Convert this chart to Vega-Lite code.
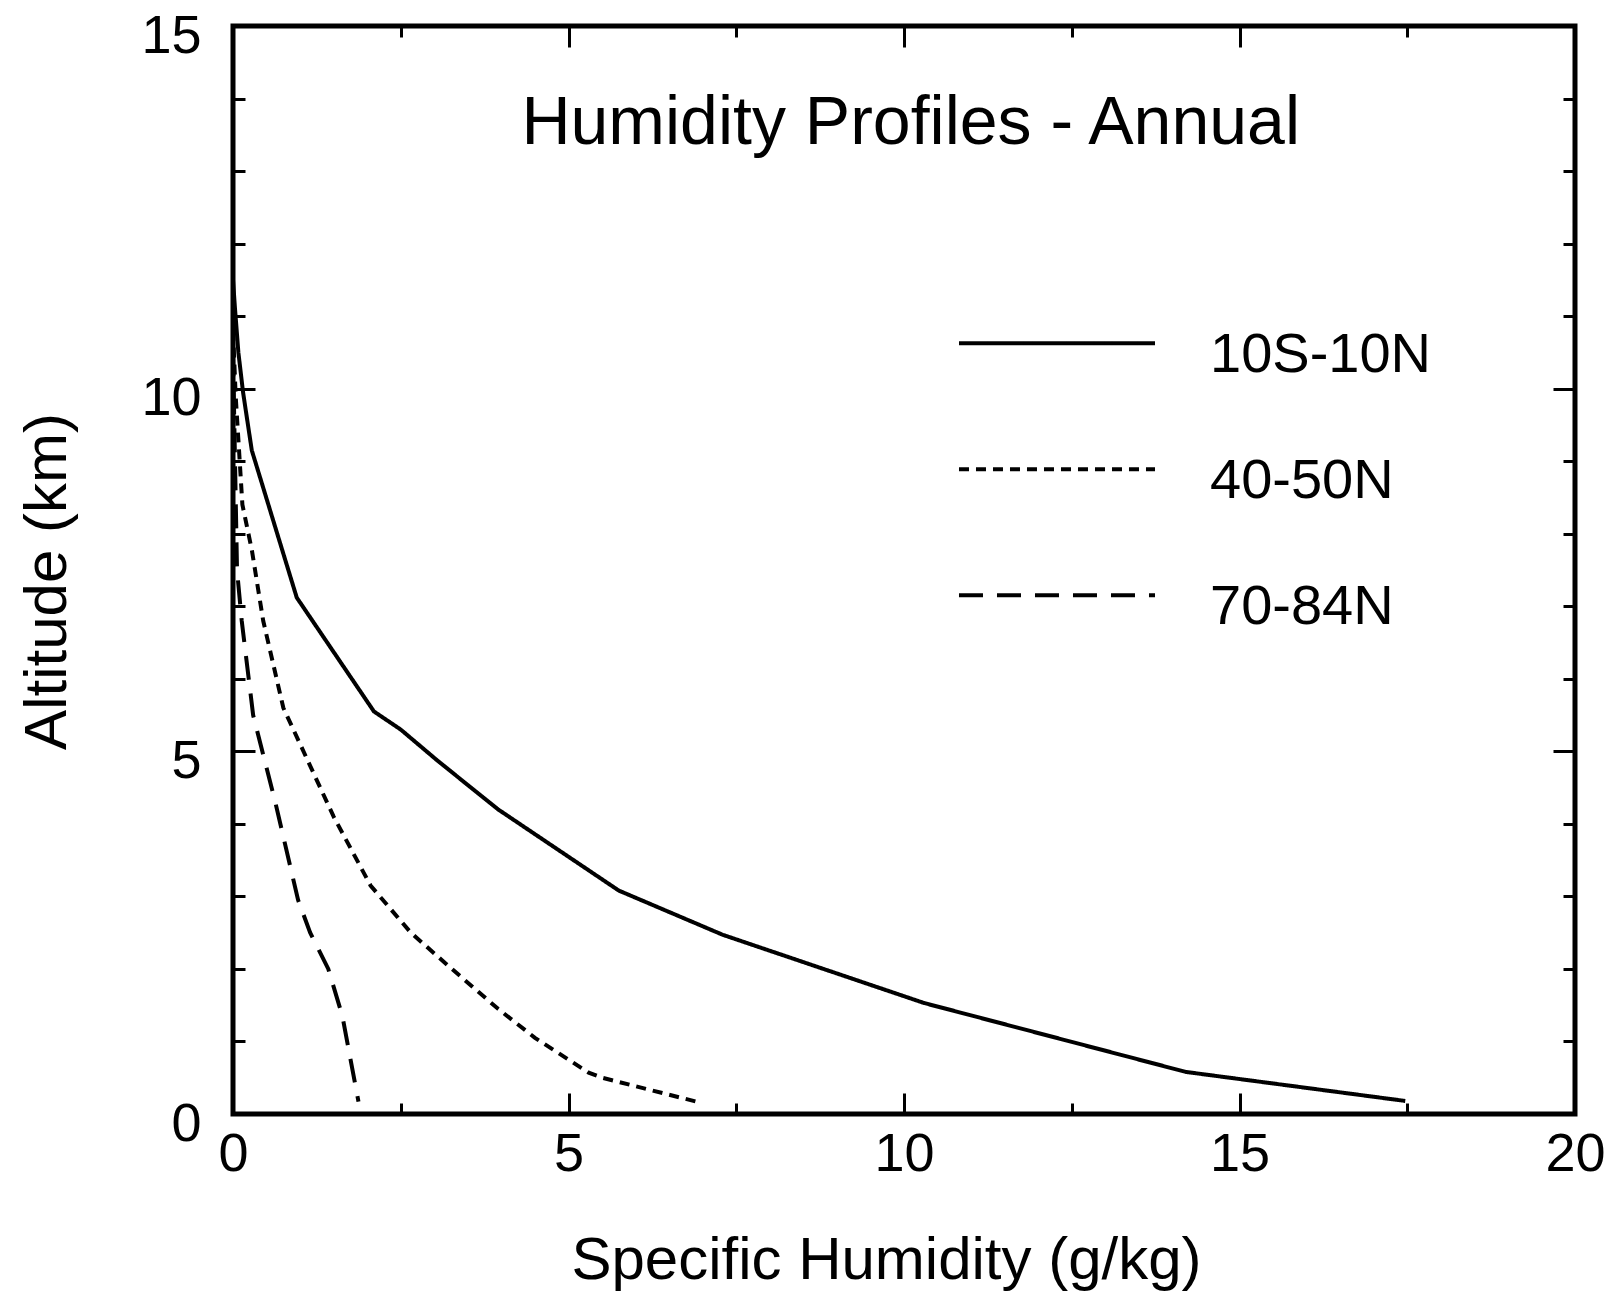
{
  "$schema": "https://vega.github.io/schema/vega-lite/v6.json",
  "width": 1342,
  "height": 1088,
  "autosize": {"type": "none"},
  "padding": {"left": 233, "top": 26, "right": 41, "bottom": 202},
  "background": "white",
  "config": {
    "font": "Liberation Sans",
    "view": {"stroke": "black", "strokeWidth": 5},
    "axis": {"domain": false, "grid": false, "tickColor": "black", "tickWidth": 3, "labelColor": "black", "titleColor": "black", "labelFont": "Liberation Sans", "titleFont": "Liberation Sans", "titleFontWeight": "normal"}
  },
  "datasets": {
    "profiles": [
      {"band": "10S-10N", "q": 0.0, "alt": 11.5},
      {"band": "10S-10N", "q": 0.03, "alt": 11.1},
      {"band": "10S-10N", "q": 0.08, "alt": 10.5},
      {"band": "10S-10N", "q": 0.15, "alt": 9.95},
      {"band": "10S-10N", "q": 0.28, "alt": 9.15},
      {"band": "10S-10N", "q": 0.95, "alt": 7.12},
      {"band": "10S-10N", "q": 2.1, "alt": 5.55},
      {"band": "10S-10N", "q": 2.5, "alt": 5.3},
      {"band": "10S-10N", "q": 3.05, "alt": 4.87},
      {"band": "10S-10N", "q": 3.95, "alt": 4.2},
      {"band": "10S-10N", "q": 5.75, "alt": 3.08},
      {"band": "10S-10N", "q": 7.3, "alt": 2.47},
      {"band": "10S-10N", "q": 10.3, "alt": 1.53},
      {"band": "10S-10N", "q": 14.2, "alt": 0.58},
      {"band": "10S-10N", "q": 17.47, "alt": 0.18},
      {"band": "40-50N", "q": 0.0, "alt": 10.8},
      {"band": "40-50N", "q": 0.04, "alt": 9.9},
      {"band": "40-50N", "q": 0.14, "alt": 8.4},
      {"band": "40-50N", "q": 0.28, "alt": 7.78},
      {"band": "40-50N", "q": 0.45, "alt": 6.8},
      {"band": "40-50N", "q": 0.75, "alt": 5.6},
      {"band": "40-50N", "q": 1.0, "alt": 5.1},
      {"band": "40-50N", "q": 1.5, "alt": 4.1},
      {"band": "40-50N", "q": 2.05, "alt": 3.15},
      {"band": "40-50N", "q": 2.65, "alt": 2.5},
      {"band": "40-50N", "q": 3.2, "alt": 2.05},
      {"band": "40-50N", "q": 3.95, "alt": 1.45},
      {"band": "40-50N", "q": 4.5, "alt": 1.05},
      {"band": "40-50N", "q": 5.3, "alt": 0.57},
      {"band": "40-50N", "q": 5.5, "alt": 0.5},
      {"band": "40-50N", "q": 6.95, "alt": 0.16},
      {"band": "70-84N", "q": 0.0, "alt": 10.5},
      {"band": "70-84N", "q": 0.03, "alt": 9.0},
      {"band": "70-84N", "q": 0.06, "alt": 7.5},
      {"band": "70-84N", "q": 0.13, "alt": 6.8},
      {"band": "70-84N", "q": 0.3, "alt": 5.5},
      {"band": "70-84N", "q": 0.63, "alt": 4.3},
      {"band": "70-84N", "q": 0.97, "alt": 2.95},
      {"band": "70-84N", "q": 1.15, "alt": 2.5},
      {"band": "70-84N", "q": 1.42, "alt": 2.0},
      {"band": "70-84N", "q": 1.63, "alt": 1.35},
      {"band": "70-84N", "q": 1.87, "alt": 0.17}
    ],
    "heading": [{"label": "Humidity Profiles - Annual"}]
  },
  "layer": [
    {
      "data": {"name": "profiles"},
      "mark": {"type": "line", "color": "black", "strokeWidth": 4, "strokeCap": "butt"},
      "encoding": {
        "x": {
          "field": "q", "type": "quantitative",
          "scale": {"domain": [0, 20], "nice": false, "zero": true},
          "axis": {
            "orient": "bottom",
            "values": [0, 2.5, 5, 7.5, 10, 12.5, 15, 17.5, 20],
            "labelExpr": "datum.value % 5 === 0 ? datum.label : ''",
            "labelFontSize": 54, "labelPadding": 34, "labelFlush": false, "labelOverlap": false,
            "tickSize": {"condition": {"test": "datum.value % 5 === 0", "value": -21}, "value": -11},
            "title": "Specific Humidity (g/kg)", "titleFontSize": 60,
            "titleX": 653, "titleAlign": "center",
            "titleY": 164, "titleBaseline": "alphabetic"
          }
        },
        "y": {
          "field": "alt", "type": "quantitative",
          "scale": {"domain": [0, 15], "nice": false, "zero": true},
          "axis": {
            "orient": "left",
            "values": [0, 1, 2, 3, 4, 5, 6, 7, 8, 9, 10, 11, 12, 13, 14, 15],
            "labelExpr": "datum.value % 5 === 0 ? datum.label : ''",
            "labelFontSize": 54, "labelPadding": 54, "labelOffset": 10, "labelFlush": false, "labelOverlap": false,
            "tickSize": {"condition": {"test": "datum.value % 5 === 0", "value": -22}, "value": -12},
            "title": "Altitude (km)", "titleFontSize": 60,
            "titleX": -168, "titleY": 555, "titleAngle": -90, "titleAlign": "center", "titleBaseline": "alphabetic"
          }
        },
        "strokeDash": {
          "field": "band", "type": "nominal",
          "scale": {"domain": ["10S-10N", "40-50N", "70-84N"], "range": [[1, 0], [10, 7], [24, 14]]},
          "legend": {
            "orient": "none", "legendX": 796, "legendY": 301, "title": null, "padding": 0,
            "symbolType": "M-5,-0.6H5", "symbolSize": 1537, "symbolStrokeWidth": 4, "symbolStrokeColor": "black",
            "labelFontSize": 56, "labelFont": "Liberation Sans", "labelColor": "black", "labelOffset": 125, "labelLimit": 0,
            "rowPadding": 70
          }
        }
      }
    },
    {
      "data": {"name": "heading"},
      "mark": {"type": "text", "fontSize": 68, "font": "Liberation Sans", "align": "center", "baseline": "alphabetic", "color": "black"},
      "encoding": {
        "x": {
          "datum": 10.1, "type": "quantitative",
          "axis": {
            "orient": "top", "values": [0, 2.5, 5, 7.5, 10, 12.5, 15, 17.5, 20], "labels": false, "title": null,
            "tickSize": {"condition": {"test": "datum.value % 5 === 0", "value": -21}, "value": -11}
          }
        },
        "y": {
          "datum": 13.37, "type": "quantitative",
          "axis": {
            "orient": "right", "values": [0, 1, 2, 3, 4, 5, 6, 7, 8, 9, 10, 11, 12, 13, 14, 15], "labels": false, "title": null,
            "tickSize": {"condition": {"test": "datum.value % 5 === 0", "value": -22}, "value": -12}
          }
        },
        "text": {"field": "label"}
      }
    }
  ],
  "resolve": {"axis": {"x": "independent", "y": "independent"}}
}
